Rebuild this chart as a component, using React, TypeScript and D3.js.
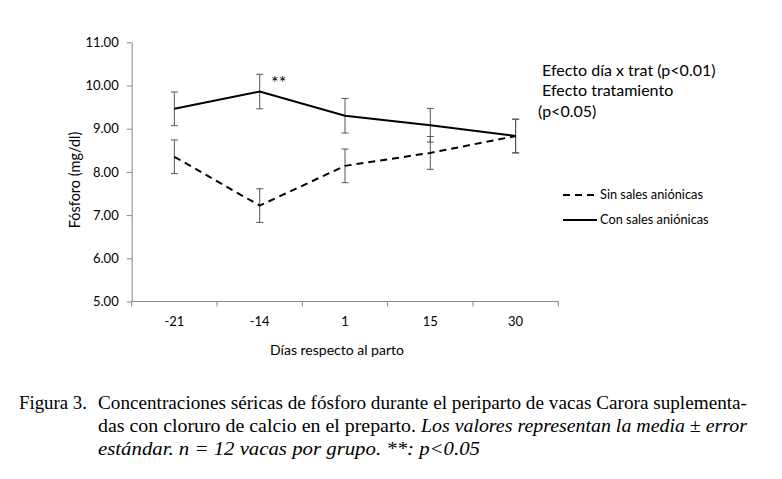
import React, { useEffect, useRef } from 'react';
import * as d3 from 'd3';

const days = ['-21', '-14', '1', '15', '30'];
const sinSales = [8.35, 7.22, 8.14, 8.44, 8.83];
const sinSem = [0.39, 0.39, 0.39, 0.38, 0.39];
const conSales = [9.46, 9.86, 9.30, 9.08, 8.83];
const conSem = [0.39, 0.40, 0.40, 0.39, 0.39];
const yTicks = [5, 6, 7, 8, 9, 10, 11];

const App: React.FC = () => {
  const svgRef = useRef<SVGSVGElement>(null);

  useEffect(() => {
    if (!svgRef.current) return;
    const svg = d3.select(svgRef.current);
    svg.selectAll('*').remove();

    const x = d3.scaleBand<string>().domain(days).range([131.7, 558.3]);
    const y = d3.scaleLinear().domain([5, 11]).range([301.5, 42.3]);
    const cx = (d: string) => (x(d) || 0) + x.bandwidth() / 2;
    const axisColor = '#868686';
    const font = 'Lato, "Open Sans", sans-serif';

    // Y axis
    const yAxis = d3.axisLeft(y).tickValues(yTicks).tickSize(5).tickSizeOuter(0).tickFormat(d3.format('.2f'));
    const gy = svg.append('g').attr('transform', `translate(${131.7},0)`).call(yAxis);
    gy.select('.domain').attr('stroke', axisColor);
    gy.selectAll('line').attr('stroke', axisColor);
    gy.selectAll('text').attr('fill', '#000').style('font-family', font).style('font-size', '13px').attr('x', -13);

    // X axis
    const gx = svg.append('g').attr('transform', `translate(0,${301.5})`);
    gx.append('line').attr('x1', 131.7).attr('x2', 558.3).attr('stroke', axisColor);
    const bounds = days.map(d => x(d) || 0).concat([558.3]);
    gx.selectAll('.tk').data(bounds).enter().append('line')
      .attr('x1', d => d).attr('x2', d => d).attr('y1', 0).attr('y2', 5).attr('stroke', axisColor);
    gx.selectAll('.lbl').data(days).enter().append('text')
      .attr('x', d => cx(d)).attr('y', 24).attr('text-anchor', 'middle')
      .style('font-family', font).style('font-size', '13px').text(d => d);

    // Axis titles
    svg.append('text').attr('transform', 'rotate(-90)').attr('x', -180).attr('y', 80)
      .attr('text-anchor', 'middle').style('font-family', font).style('font-size', '14.5px').text('Fósforo (mg/dl)');
    svg.append('text').attr('x', 337).attr('y', 355).attr('text-anchor', 'middle')
      .style('font-family', font).style('font-size', '14px').text('Días respecto al parto');

    // Error bars
    const drawErr = (vals: number[], sem: number[]) => {
      const g = svg.append('g').attr('stroke', '#555').attr('stroke-width', 1);
      vals.forEach((v, i) => {
        const px = cx(days[i]);
        g.append('line').attr('x1', px).attr('x2', px).attr('y1', y(v - sem[i])).attr('y2', y(v + sem[i]));
        g.append('line').attr('x1', px - 3.5).attr('x2', px + 3.5).attr('y1', y(v - sem[i])).attr('y2', y(v - sem[i]));
        g.append('line').attr('x1', px - 3.5).attr('x2', px + 3.5).attr('y1', y(v + sem[i])).attr('y2', y(v + sem[i]));
      });
    };
    drawErr(sinSales, sinSem);
    drawErr(conSales, conSem);

    const line = d3.line<number>().x((_, i) => cx(days[i])).y(d => y(d));
    svg.append('path').datum(sinSales).attr('d', line).attr('fill', 'none')
      .attr('stroke', '#000').attr('stroke-width', 2).attr('stroke-dasharray', '7,5');
    svg.append('path').datum(conSales).attr('d', line).attr('fill', 'none')
      .attr('stroke', '#000').attr('stroke-width', 2);

    // Significance
    svg.append('text').attr('x', 271).attr('y', 89).style('font-family', font).style('font-size', '18px').text('**');

    // Effects annotation
    const ann = svg.append('g').style('font-family', font).style('font-size', '16px');
    ann.append('text').attr('x', 542).attr('y', 76).text('Efecto día x trat (p<0.01)');
    ann.append('text').attr('x', 542).attr('y', 96).text('Efecto tratamiento');
    ann.append('text').attr('x', 538).attr('y', 117).text('(p<0.05)');

    // Legend
    const leg = svg.append('g').style('font-family', font).style('font-size', '12.8px');
    leg.append('line').attr('x1', 563).attr('x2', 597).attr('y1', 195).attr('y2', 195)
      .attr('stroke', '#000').attr('stroke-width', 2).attr('stroke-dasharray', '7,5');
    leg.append('text').attr('x', 600).attr('y', 199).text('Sin sales aniónicas');
    leg.append('line').attr('x1', 563).attr('x2', 597).attr('y1', 220).attr('y2', 220)
      .attr('stroke', '#000').attr('stroke-width', 2);
    leg.append('text').attr('x', 600).attr('y', 224).text('Con sales aniónicas');

    // Caption
    const cap = svg.append('g').style('font-family', '"Liberation Serif", "Times New Roman", serif').style('font-size', '18.5px');
    cap.append('text').attr('x', 19).attr('y', 409).attr('textLength', 68).attr('lengthAdjust', 'spacingAndGlyphs').text('Figura 3.');
    cap.append('text').attr('x', 98).attr('y', 409).attr('textLength', 649).attr('lengthAdjust', 'spacingAndGlyphs')
      .text('Concentraciones séricas de fósforo durante el periparto de vacas Carora suplementa-');
    const l2 = cap.append('text').attr('x', 98).attr('y', 432).attr('textLength', 649).attr('lengthAdjust', 'spacingAndGlyphs');
    l2.append('tspan').text('das con cloruro de calcio en el preparto. ');
    l2.append('tspan').style('font-style', 'italic').text('Los valores representan la media ± error');
    cap.append('text').attr('x', 98).attr('y', 455).style('font-style', 'italic')
      .attr('textLength', 382).attr('lengthAdjust', 'spacingAndGlyphs')
      .text('estándar. n  =  12 vacas por grupo. **: p<0.05');
  }, []);

  return (
    <svg ref={svgRef} width={782} height={479} style={{ position: 'absolute', left: 0, top: 0, background: '#fff' }} />
  );
};

export default App;
